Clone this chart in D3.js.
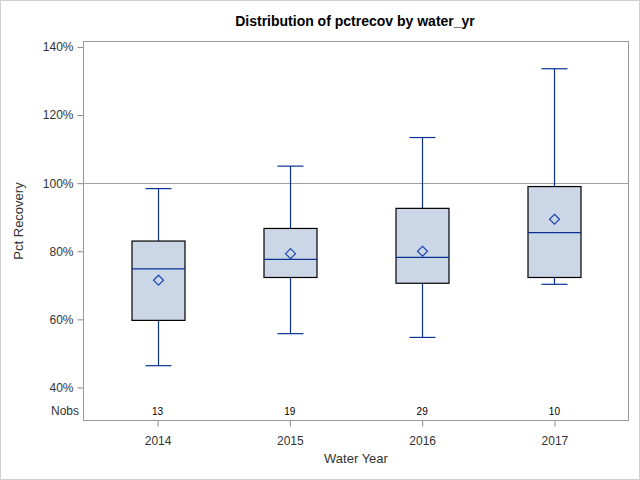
<!DOCTYPE html>
<html><head><meta charset="utf-8">
<script src="https://cdn.jsdelivr.net/npm/d3@7/dist/d3.min.js"></script>
<style>body{margin:0;background:#fff}svg{display:block;font-family:"Liberation Sans",Arial,sans-serif}</style>
</head><body><svg id="c" width="640" height="480"></svg>
<script>
const years = ["2014","2015","2016","2017"];
const whiskerLow = [46.4, 55.8, 54.7, 70.3];
const q1 = [59.7, 72.3, 70.6, 72.3];
const median = [74.8, 77.6, 78.2, 85.5];
const q3 = [83.0, 86.7, 92.6, 99.0];
const whiskerHigh = [98.4, 105.0, 113.4, 133.6];
const means = [71.5, 79.3, 80.0, 89.4];
const nobs = [13, 19, 29, 10];
const yTicks = [40, 60, 80, 100, 120, 140];
const refLine = 100;

const svg = d3.select("#c");
svg.append("rect").attr("x",0.5).attr("y",0.5).attr("width",639).attr("height",479)
  .attr("fill","#fff").attr("stroke","#d0d0d0");

const L=83.5, R=628.5, T=41.5, B=420.5;
const x = d3.scalePoint().domain(years).range([L,R]).padding(0.56);
const y = d3.scaleLinear().domain([30.3,141.6]).range([B,T]);

// title
svg.append("text").attr("x",355).attr("y",26).attr("text-anchor","middle")
  .attr("font-size",14).attr("font-weight","bold").attr("fill","#000")
  .text("Distribution of pctrecov by water_yr");

// reference line
svg.append("line").attr("x1",L).attr("x2",R).attr("y1",Math.round(y(refLine))+0.5).attr("y2",Math.round(y(refLine))+0.5)
  .attr("stroke","#a0a0a0").attr("stroke-width",1);

// y axis
const yAxis = d3.axisLeft(y).tickValues(yTicks).tickSize(6).tickPadding(4).tickFormat(d=>d+"%");
const gy = svg.append("g").attr("transform",`translate(${L},0)`).call(yAxis);
gy.select(".domain").remove();
gy.selectAll(".tick line").attr("stroke","#888");
gy.selectAll(".tick text").attr("font-size",12).attr("fill","#333").style("font-family","Liberation Sans, Arial, sans-serif");

// x axis
const xAxis = d3.axisBottom(x).tickSize(6).tickPadding(10);
const gx = svg.append("g").attr("transform",`translate(0,${B})`).call(xAxis);
gx.select(".domain").remove();
gx.selectAll(".tick line").attr("stroke","#888");
gx.selectAll(".tick text").attr("font-size",12).attr("fill","#333").style("font-family","Liberation Sans, Arial, sans-serif");

// axis labels
svg.append("text").attr("x",356).attr("y",463).attr("text-anchor","middle")
  .attr("font-size",13).attr("fill","#333").text("Water Year");
svg.append("text").attr("transform",`translate(23,${(T+B)/2 - 10}) rotate(-90)`).attr("text-anchor","middle")
  .attr("font-size",13).attr("fill","#333").text("Pct Recovery");

// Nobs
svg.append("text").attr("x",79).attr("y",415).attr("text-anchor","end")
  .attr("font-size",12).attr("fill","#333").text("Nobs");
years.forEach((yr,i)=>{
  svg.append("text").attr("x",x(yr)).attr("y",415).attr("text-anchor","middle")
    .attr("font-size",10).attr("fill","#000").text(nobs[i]);
});

const boxW = 53, capW = 26;
const wc = "#0a3291";
years.forEach((yr,i)=>{
  const cx = Math.round(x(yr))+0.5;
  const g = svg.append("g");
  // whiskers
  g.append("line").attr("x1",cx).attr("x2",cx).attr("y1",y(whiskerHigh[i])).attr("y2",y(q3[i])).attr("stroke",wc).attr("stroke-width",1.2);
  g.append("line").attr("x1",cx).attr("x2",cx).attr("y1",y(q1[i])).attr("y2",y(whiskerLow[i])).attr("stroke",wc).attr("stroke-width",1.2);
  g.append("line").attr("x1",cx-capW/2).attr("x2",cx+capW/2).attr("y1",y(whiskerHigh[i])).attr("y2",y(whiskerHigh[i])).attr("stroke",wc).attr("stroke-width",1.2);
  g.append("line").attr("x1",cx-capW/2).attr("x2",cx+capW/2).attr("y1",y(whiskerLow[i])).attr("y2",y(whiskerLow[i])).attr("stroke",wc).attr("stroke-width",1.2);
  // box
  g.append("rect").attr("x",cx-boxW/2).attr("y",y(q3[i])).attr("width",boxW).attr("height",y(q1[i])-y(q3[i]))
    .attr("fill","#cbd6e6").attr("stroke","#000").attr("stroke-width",1.2);
  // median
  g.append("line").attr("x1",cx-boxW/2).attr("x2",cx+boxW/2).attr("y1",y(median[i])).attr("y2",y(median[i])).attr("stroke",wc).attr("stroke-width",1.2);
  // mean diamond
  const my = y(means[i]), s=5;
  g.append("path").attr("d",`M${cx},${my-s}L${cx+s},${my}L${cx},${my+s}L${cx-s},${my}Z`)
    .attr("fill","none").attr("stroke","#1f45b5").attr("stroke-width",1.2);
});

// frame
svg.append("rect").attr("x",L).attr("y",T).attr("width",R-L).attr("height",B-T)
  .attr("fill","none").attr("stroke","#999").attr("stroke-width",1);
</script></body></html>
